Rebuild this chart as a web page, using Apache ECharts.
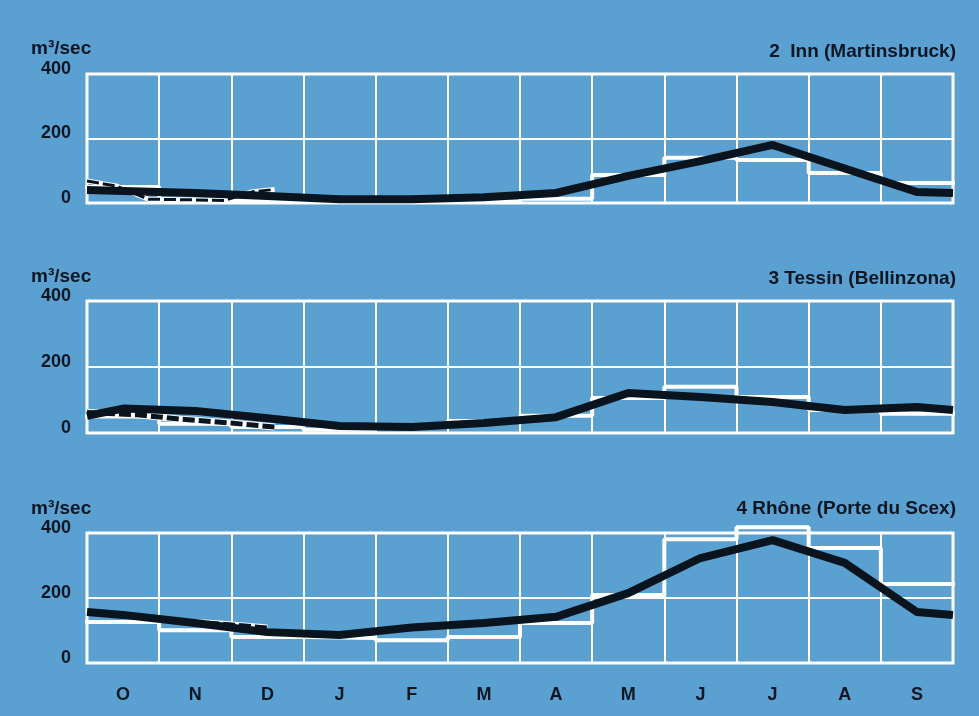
<!DOCTYPE html>
<html>
<head>
<meta charset="utf-8">
<script src="https://cdn.jsdelivr.net/npm/echarts@6/dist/echarts.min.js"></script>
<style>
  html, body { margin: 0; padding: 0; background: #5aa0d1; }
  #chart { width: 979px; height: 716px; }
</style>
</head>
<body>
<div id="chart"></div>
<script>
// Hydrological year, October to September
const months = ['O', 'N', 'D', 'J', 'F', 'M', 'A', 'M', 'J', 'J', 'A', 'S'];
const yMin = 0, yMax = 400, yStep = 200;

// 2 Inn (Martinsbruck) — discharge in m³/sec
const innMonthly = [50, 10, 5, 5, 5, 5, 13, 87, 140, 133, 93, 62];
const innCurveStart = 40;
const innCurve = [37, 31, 22, 12, 12, 18, 31, 84, 130, 180, 107, 34];
const innCurveEnd = 31;
const innDashedAt = [0, 0.4, 0.85, 1.9, 2.3, 2.6];
const innDashed = [68, 53, 12, 8, 35, 42];

// 3 Tessin (Bellinzona)
const tessinMonthly = [50, 28, 18, 10, 20, 36, 52, 106, 140, 109, 70, 58];
const tessinCurveStart = 52;
const tessinCurve = [74, 67, 45, 21, 18, 30, 48, 121, 109, 94, 70, 79];
const tessinCurveEnd = 70;
const tessinDashedAt = [0, 0.7, 1.3, 2.0, 2.6];
const tessinDashed = [62, 55, 42, 30, 18];

// 4 Rhône (Porte du Scex)
const rhoneMonthly = [126, 101, 80, 77, 70, 80, 123, 209, 381, 418, 354, 243];
const rhoneCurveStart = 157;
const rhoneCurve = [148, 123, 95, 86, 109, 123, 142, 215, 323, 378, 308, 157];
const rhoneCurveEnd = 148;
const rhoneDashedAt = [1.0, 1.8, 2.5];
const rhoneDashed = [134, 124, 111];

const ink = '#0d1622';
const white = '#ffffff';
const lineInk = '#0a141e';
const font = '"Liberation Sans", Arial, Helvetica, sans-serif';

const panels = [
  { title: '2  Inn (Martinsbruck)', monthly: innMonthly, start: innCurveStart, curve: innCurve, end: innCurveEnd, dashAt: innDashedAt, dash: innDashed, dashWidth: 3, top: 74, height: 129, titleTop: 42, unitTop: 39 },
  { title: '3 Tessin (Bellinzona)', monthly: tessinMonthly, start: tessinCurveStart, curve: tessinCurve, end: tessinCurveEnd, dashAt: tessinDashedAt, dash: tessinDashed, dashWidth: 5, top: 301, height: 132, titleTop: 269, unitTop: 267 },
  { title: '4 Rhône (Porte du Scex)', monthly: rhoneMonthly, start: rhoneCurveStart, curve: rhoneCurve, end: rhoneCurveEnd, dashAt: rhoneDashedAt, dash: rhoneDashed, dashWidth: 3, top: 533, height: 130, titleTop: 499, unitTop: 499 }
];

// Monthly means as a full-width staircase: each value holds from the start of its month to the next
function stepData(vals) {
  const d = vals.map((v, i) => [i, v]);
  d.push([vals.length, vals[vals.length - 1]]);
  return d;
}
// Curve through mid-month values, extended to both ends of the year
function curveData(start, vals, end) {
  const d = [[0, start]];
  vals.forEach((v, i) => d.push([i + 0.5, v]));
  d.push([vals.length, end]);
  return d;
}
function pairs(xs, ys) { return xs.map((x, i) => [x, ys[i]]); }

const textStyle = { color: ink, fontSize: 19, fontWeight: 'bold', fontFamily: font };
const grid = [], xAxis = [], yAxis = [], series = [], title = [];

panels.forEach((p, k) => {
  const last = k === panels.length - 1;
  grid.push({
    left: 87, right: 26, top: p.top, height: p.height,
    show: true, borderColor: white, borderWidth: 3, backgroundColor: 'transparent'
  });
  // category axis: month boundaries and labels
  xAxis.push({
    type: 'category', gridIndex: k, data: months, boundaryGap: true,
    axisLine: { show: false }, axisTick: { show: false },
    splitLine: { show: true, lineStyle: { color: white, width: 2 } },
    axisLabel: { show: last, color: ink, fontSize: 18, fontWeight: 'bold', fontFamily: font, margin: 23 }
  });
  // continuous month axis used by the series
  xAxis.push({ type: 'value', gridIndex: k, min: 0, max: months.length, show: false });
  yAxis.push({
    type: 'value', gridIndex: k, min: yMin, max: yMax, interval: yStep,
    axisLine: { show: false }, axisTick: { show: false },
    splitLine: { show: true, lineStyle: { color: white, width: 2 } },
    axisLabel: { color: ink, fontSize: 18, fontWeight: 'bold', fontFamily: font, margin: 16, verticalAlign: 'bottom', lineHeight: 10 }
  });
  const xi = k * 2 + 1;
  series.push({
    type: 'line', xAxisIndex: xi, yAxisIndex: k, data: stepData(p.monthly), step: 'end',
    symbol: 'none', clip: false, z: 3,
    lineStyle: { color: white, width: 4, cap: 'square' }
  });
  series.push({
    type: 'line', xAxisIndex: xi, yAxisIndex: k, data: pairs(p.dashAt, p.dash),
    symbol: 'none', clip: false, z: 4,
    lineStyle: { color: white, width: p.dashWidth + 2 }
  });
  series.push({
    type: 'line', xAxisIndex: xi, yAxisIndex: k, data: pairs(p.dashAt, p.dash),
    symbol: 'none', clip: false, z: 5,
    lineStyle: { color: lineInk, width: p.dashWidth, type: [12, 4] }
  });
  series.push({
    type: 'line', xAxisIndex: xi, yAxisIndex: k, data: curveData(p.start, p.curve, p.end),
    symbol: 'none', clip: false, z: 6,
    lineStyle: { color: lineInk, width: 8, join: 'round', cap: 'butt' }
  });
  title.push({ text: 'm³/sec', left: 31, top: p.unitTop, padding: 0, textStyle: textStyle });
  title.push({ text: p.title, right: 23, top: p.titleTop, padding: 0, textStyle: textStyle });
});

const chart = echarts.init(document.getElementById('chart'), null, { renderer: 'canvas' });
chart.setOption({
  backgroundColor: '#5aa0d1',
  animation: false,
  title: title,
  grid: grid,
  xAxis: xAxis,
  yAxis: yAxis,
  series: series
});
</script>
</body>
</html>
